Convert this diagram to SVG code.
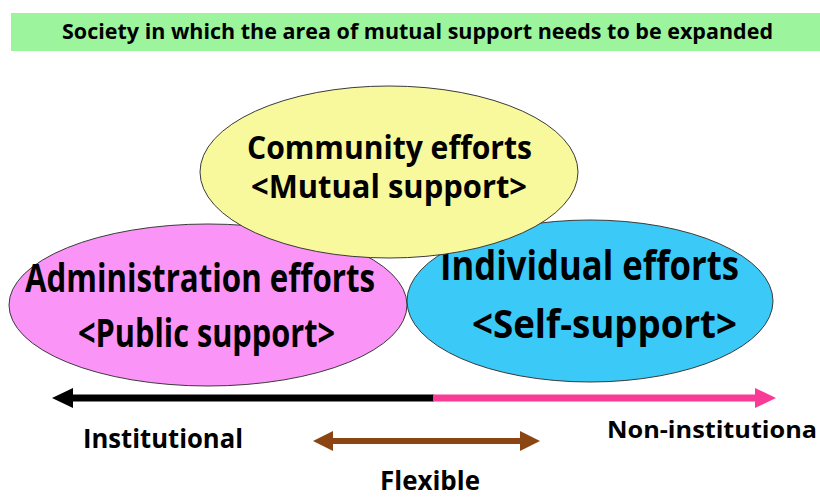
<svg xmlns="http://www.w3.org/2000/svg" width="820" height="498" viewBox="0 0 820 498">
<style>
  .t { font-family: "Open Sans", "Noto Sans", "DejaVu Sans", sans-serif; font-weight: bold; fill: #000; }
  .ell { stroke: #3a3a3a; stroke-width: 1; }
</style>
<defs>
  <marker id="hBlack" markerUnits="userSpaceOnUse" viewBox="0 0 21 20" markerWidth="21" markerHeight="20" refX="0" refY="10" orient="auto">
    <path d="M0,0 L21,10 L0,20 Z" fill="#000"/>
  </marker>
  <marker id="hPink" markerUnits="userSpaceOnUse" viewBox="0 0 21 20" markerWidth="21" markerHeight="20" refX="0" refY="10" orient="auto">
    <path d="M0,0 L21,10 L0,20 Z" fill="#F93B97"/>
  </marker>
  <marker id="hBrown" markerUnits="userSpaceOnUse" viewBox="0 0 20 20" markerWidth="20" markerHeight="20" refX="0" refY="10" orient="auto-start-reverse">
    <path d="M0,0 L20,10 L0,20 Z" fill="#8B4513"/>
  </marker>
</defs>
<rect width="820" height="498" fill="#fff"/>

<g id="title">
  <rect x="11" y="13" width="809" height="38" fill="#9CF59C"/>
  <text class="t" x="62" y="38.5" font-size="21" textLength="711" lengthAdjust="spacingAndGlyphs">Society in which the area of mutual support needs to be expanded</text>
</g>

<g id="administration">
  <ellipse class="ell" cx="208" cy="305" rx="199" ry="81" fill="#FA95F7"/>
  <text class="t" x="25" y="292" font-size="40" textLength="350" lengthAdjust="spacingAndGlyphs">Administration efforts</text>
  <text class="t" x="78" y="347" font-size="40" textLength="257" lengthAdjust="spacingAndGlyphs">&lt;Public support&gt;</text>
</g>

<g id="individual">
  <ellipse class="ell" cx="590" cy="301" rx="183" ry="81" fill="#3BC9F7"/>
  <text class="t" x="440" y="280" font-size="41" textLength="299" lengthAdjust="spacingAndGlyphs">Individual efforts</text>
  <text class="t" x="472" y="338" font-size="39" textLength="265" lengthAdjust="spacingAndGlyphs">&lt;Self-support&gt;</text>
</g>

<g id="community">
  <ellipse class="ell" cx="389" cy="172" rx="189" ry="86" fill="#F8F89C"/>
  <text class="t" x="247" y="159" font-size="32" textLength="285" lengthAdjust="spacingAndGlyphs">Community efforts</text>
  <text class="t" x="251" y="198" font-size="32" textLength="276" lengthAdjust="spacingAndGlyphs">&lt;Mutual support&gt;</text>
</g>

<g id="connectors">
  <line x1="434" y1="398" x2="73" y2="398" stroke="#000" stroke-width="7" marker-end="url(#hBlack)"/>
  <line x1="433" y1="398" x2="755" y2="398" stroke="#F93B97" stroke-width="7" marker-end="url(#hPink)"/>
  <line x1="333" y1="441" x2="520" y2="441" stroke="#8B4513" stroke-width="6" marker-start="url(#hBrown)" marker-end="url(#hBrown)"/>
</g>

<g id="labels">
  <text class="t" x="83" y="448" font-size="27" textLength="160" lengthAdjust="spacingAndGlyphs">Institutional</text>
  <text class="t" x="607" y="438" font-size="23" textLength="210" lengthAdjust="spacingAndGlyphs">Non-institutiona</text>
  <text class="t" x="380" y="490" font-size="27" textLength="100" lengthAdjust="spacingAndGlyphs">Flexible</text>
</g>
</svg>
